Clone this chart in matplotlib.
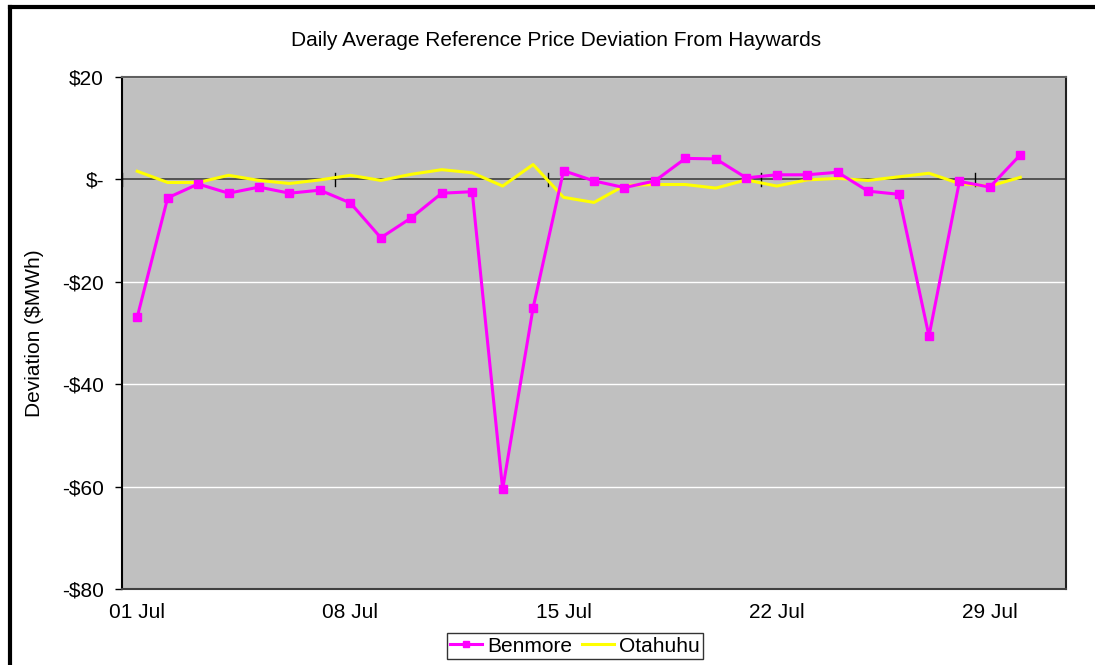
import numpy as np
import matplotlib.pyplot as plt
from matplotlib.lines import Line2D

plt.rcParams['font.family'] = ['Liberation Sans', 'DejaVu Sans']

# day of July (1..30)
days = list(range(1, 31))
benmore = [-26.9, -3.6, -0.9, -2.7, -1.5, -2.7, -2.1, -4.6, -11.4, -7.5,
           -2.7, -2.4, -60.5, -25.1, 1.7, -0.3, -1.6, -0.3, 4.1, 4.0,
           0.3, 0.9, 0.9, 1.4, -2.3, -2.9, -30.6, -0.4, -1.5, 4.8]
otahuhu = [1.6, -0.6, -0.6, 0.8, -0.2, -0.8, -0.1, 0.8, -0.2, 1.0,
           1.9, 1.3, -1.3, 2.9, -3.5, -4.5, -1.2, -1.0, -1.0, -1.7,
           -0.1, -1.3, -0.1, 0.2, -0.2, 0.5, 1.2, -0.8, -1.3, 0.4]
tick_days = [1, 8, 15, 22, 29]
tick_labels = ['01 Jul', '08 Jul', '15 Jul', '22 Jul', '29 Jul']
y_ticks = [20, 0, -20, -40, -60, -80]
y_labels = ['$20', '$-', '-$20', '-$40', '-$60', '-$80']

fs = 15

fig = plt.figure(figsize=(10.95, 6.65), dpi=100)
ax = fig.add_axes([122 / 1095, 1 - 589 / 665, 944 / 1095, 512 / 665])
ax.set_facecolor('#C0C0C0')

for y in [20, -20, -40, -60]:
    ax.axhline(y, color='white', linewidth=1, zorder=1)
ax.axhline(0, color='#404040', linewidth=1.2, zorder=2)

# crossing tick marks on the zero line
for d in tick_days:
    ax.plot([d - 0.5, d - 0.5], [-1.3, 1.3], color='black', linewidth=1, zorder=2)

ax.plot(days, otahuhu, color='#FFFF00', linewidth=2.2, label='Otahuhu', zorder=3)
ax.plot(days, benmore, color='#FF00FF', linewidth=2.2, marker='s', markersize=5.5,
        label='Benmore', zorder=4)

ax.set_xlim(0.5, 31.5)
ax.set_ylim(-80, 20)
ax.set_xticks(tick_days)
ax.set_xticklabels(tick_labels, fontsize=fs)
ax.tick_params(axis='x', length=0, pad=10)
ax.set_yticks(y_ticks)
ax.set_yticklabels(y_labels, fontsize=fs)
ax.tick_params(axis='y', length=5, width=1, pad=8)
ax.set_ylabel('Deviation ($MWh)', fontsize=fs, labelpad=13)

ax.spines['left'].set_color('black')
ax.spines['bottom'].set_color('#404040')
ax.spines['top'].set_color('#606060')
ax.spines['right'].set_color('#202020')
for s in ax.spines.values():
    s.set_linewidth(1.5)

fig.text(556 / 1095, 1 - 40 / 665, 'Daily Average Reference Price Deviation From Haywards',
         ha='center', va='center', fontsize=fs)

handles, labels = ax.get_legend_handles_labels()
leg = fig.legend(handles[::-1], labels[::-1], loc='center', ncol=2,
                 bbox_to_anchor=(575 / 1095, 1 - 646 / 665), fontsize=fs,
                 frameon=True, fancybox=False, edgecolor='black',
                 handlelength=1.5, handletextpad=0.25, columnspacing=0.5,
                 borderpad=0.15, borderaxespad=0.2, markerscale=0.7)
leg.get_frame().set_linewidth(1)

# outer chart border (top and left visible)
fig.add_artist(Line2D([10 / 1095, 1.0], [1 - 7 / 665, 1 - 7 / 665],
                      transform=fig.transFigure, color='black', linewidth=3))
fig.add_artist(Line2D([10 / 1095, 10 / 1095], [0.0, 1 - 7 / 665],
                      transform=fig.transFigure, color='black', linewidth=3))

fig.savefig('out.png', dpi=100, facecolor='white')
